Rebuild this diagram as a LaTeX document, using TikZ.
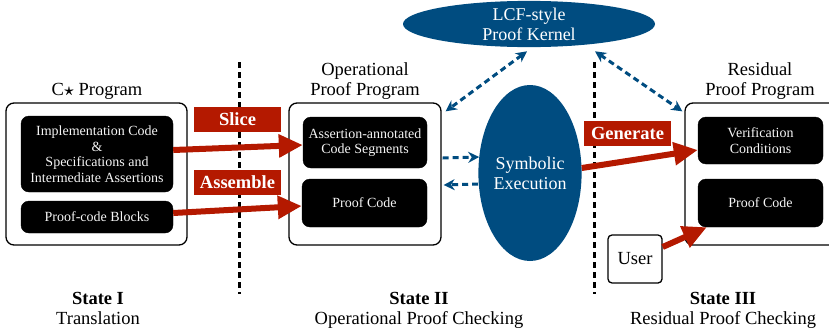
\documentclass[tikz,border=0pt]{standalone}
\usepackage{fontspec}
\setmainfont{Liberation Serif}
\usetikzlibrary{arrows.meta,shapes.geometric}

\definecolor{kernelblue}{RGB}{0,76,128}
\definecolor{stepred}{RGB}{180,25,0}
\newcommand{\titlefont}{\fontsize{18.5}{20}\selectfont}
\newcommand{\boxfont}{\fontsize{14}{15.5}\selectfont}

\tikzset{
  outerbox/.style={draw, line width=1.3pt, rounded corners=8pt, inner sep=0pt},
  codebox/.style={draw, fill=black, text=gray!8, rounded corners=8pt, inner sep=0pt, align=center, font=\boxfont},
  blob/.style={ellipse, fill=kernelblue, text=white, inner sep=0pt, align=center, font=\fontsize{18}{20}\selectfont},
  steplabel/.style={fill=stepred, text=white, inner sep=0pt, minimum width=87pt, minimum height=25pt, font=\fontsize{18.5}{20}\selectfont\bfseries},
  redarrow/.style={stepred, line width=6pt, -{Triangle[length=24pt,width=22pt]}},
  bluearrow/.style={kernelblue, line width=3pt, dash pattern=on 6pt off 4pt},
  divider/.style={line width=3pt, dash pattern=on 6pt off 4pt},
}

\begin{document}
\begin{tikzpicture}[x=1pt,y=-1pt]
\clip (0,0) rectangle (829,335);

% state dividers
\draw [divider] (239,62) -- (239,294);
\draw [divider] (594,62) -- (594,294);

% State I
\node [outerbox, minimum width=181pt, minimum height=142pt] (cprog) at (96.5,174) {};
\node [anchor=south, inner sep=0pt, font=\titlefont] at (97,100) {C{\boldmath$\star$} Program};
\node [codebox, minimum width=152pt, minimum height=76pt] (impl) at (97,154)
  {Implementation Code\\\&\\Specifications and\\Intermediate Assertions};
\node [codebox, minimum width=152pt, minimum height=32pt] (blocks) at (97,217) {Proof-code Blocks};

% State II
\node [outerbox, minimum width=152pt, minimum height=142pt] (opp) at (365,174) {};
\node [anchor=south, inner sep=0pt, font=\titlefont, align=center] at (365,100) {Operational\\Proof Program};
\node [codebox, minimum width=124pt, minimum height=51pt] (seg) at (365,142.5) {Assertion-annotated\\Code Segments};
\node [codebox, minimum width=125pt, minimum height=48pt] (opc) at (364.5,203) {Proof Code};

% kernel and symbolic execution
\node [blob, minimum width=252pt, minimum height=46pt] (lcf) at (529,24) {LCF-style\\Proof Kernel};
\node [blob, minimum width=84pt, minimum height=176pt] (symex) at (530,173) {Symbolic\\Execution};

% State III
\node [outerbox, minimum width=160pt, minimum height=142pt] (rpp) at (765,174) {};
\node [anchor=south, inner sep=0pt, font=\titlefont, align=center] at (760,100) {Residual\\Proof Program};
\node [codebox, minimum width=125pt, minimum height=47pt] (vc) at (760.5,140.5) {Verification\\Conditions};
\node [codebox, minimum width=125pt, minimum height=48pt] (rpc) at (760.5,203) {Proof Code};
\node [draw, line width=1.3pt, rounded corners=4pt, inner sep=0pt, minimum width=54pt, minimum height=48pt,
  font=\titlefont] (user) at (635,259) {User};

% red steps
\draw [redarrow] ([yshift=4pt]impl.east) -- ([yshift=-2.5pt]seg.west);
\draw [redarrow] ([yshift=4pt]blocks.east) -- ([yshift=-3pt]opc.west);
\draw [redarrow] ([yshift=5pt]symex.east) -- ([yshift=-9.5pt]vc.west);
\draw [redarrow] ([yshift=12pt]user.east) -- ([xshift=9pt]rpc.south west);
\node [steplabel] (slice) at (237.5,119.5) {Slice};
\node [steplabel] (assemble) at (237.5,182) {Assemble};
\node [steplabel] (generate) at (627.5,133.5) {Generate};

% kernel and symbolic execution links
\draw [bluearrow, {Stealth[length=11pt,width=11pt]}-{Stealth[length=11pt,width=11pt]}]
  ([xshift=-2pt,yshift=-4pt]lcf.south) -- ([xshift=4pt,yshift=-9pt]opp.north east);
\draw [bluearrow, {Stealth[length=11pt,width=11pt]}-{Stealth[length=11pt,width=11pt]}]
  ([xshift=66pt,yshift=-4pt]lcf.south) -- ([xshift=-2pt,yshift=-9pt]rpp.north west);
\draw [bluearrow, -{Stealth[length=11pt,width=11pt]}] ([xshift=1pt,yshift=16pt]opp.east) -- ([xshift=1pt,yshift=16pt]symex.west);
\draw [bluearrow, -{Stealth[length=11pt,width=11pt]}] ([yshift=-11pt]symex.west) -- ([xshift=2pt,yshift=-11pt]opp.east);

% states
\node [anchor=north, inner sep=0pt, align=center, font=\titlefont] (s1) at (98,292)
  {\textbf{State I}\\Translation};
\node [anchor=north, inner sep=0pt, align=center, font=\titlefont] (s2) at (419,292)
  {\textbf{State II}\\Operational Proof Checking};
\node [anchor=north, inner sep=0pt, align=center, font=\titlefont] (s3) at (723,292)
  {\textbf{State III}\\Residual Proof Checking};

\end{tikzpicture}
\end{document}
